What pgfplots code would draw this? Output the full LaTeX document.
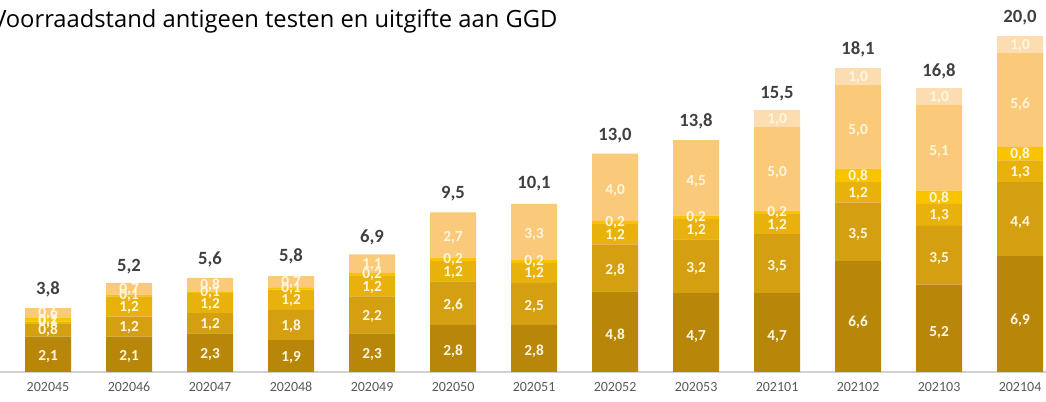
\documentclass[border=0pt]{standalone}
\usepackage{pgfplots}
\pgfplotsset{compat=1.18}
\usepackage{pgfplotstable}
\usepackage{fontspec}
\setmainfont{Carlito}
\newfontfamily\titlefont{Open Sans}

\definecolor{c1}{HTML}{B8870A}
\definecolor{c2}{HTML}{D4A012}
\definecolor{c3}{HTML}{E9B10C}
\definecolor{c4}{HTML}{F9C300}
\definecolor{c5}{HTML}{FBC97A}
\definecolor{c6}{HTML}{FCDDB2}
\definecolor{lbl}{HTML}{FFF6DE}
\definecolor{tot}{HTML}{404040}
\definecolor{tick}{HTML}{595959}

\pgfplotstableread{
x s1 s2 s3 s4 s5 s6 tot
0 2.1 0.8 0.1 0.2 0.6 0 3.8
1 2.1 1.2 1.2 0.1 0.7 0 5.2
2 2.3 1.2 1.2 0.1 0.8 0 5.6
3 1.9 1.8 1.2 0.1 0.7 0 5.8
4 2.3 2.2 1.2 0.2 1.1 0 6.9
5 2.8 2.6 1.2 0.2 2.7 0 9.5
6 2.8 2.5 1.2 0.2 3.3 0 10.1
7 4.8 2.8 1.2 0.2 4.0 0 13.0
8 4.7 3.2 1.2 0.2 4.5 0 13.8
9 4.7 3.5 1.2 0.2 5.0 1.0 15.5
10 6.6 3.5 1.2 0.8 5.0 1.0 18.1
11 5.2 3.5 1.3 0.8 5.1 1.0 16.8
12 6.9 4.4 1.3 0.8 5.6 1.0 20.0
}\voorraad

% labels in the middle of each segment
\makeatletter
\pgfplotsset{
  half offset/.code={%
    \pgfkeys{/pgf/fpu=true,/pgf/fpu/output format=fixed}%
    \pgfmathsetmacro\halfseg{\pgfplotspointmeta*\pgfplots@y@veclength/2}%
    \pgfkeys{/pgf/fpu=false}%
  },
  mid labels/.style={
    nodes near coords={\pgfmathfloatifflags{\pgfplotspointmeta}{0}{}{\pgfmathprintnumber{\pgfplotspointmeta}}},
    every node near coord/.append style={
      anchor=center, inner sep=0pt, font=\bfseries\fontsize{11.5}{13}\selectfont, text=lbl,
      /pgfplots/half offset, yshift=-\halfseg
    }
  },
  base/.style={
    scale only axis, width=784.5pt, height=279pt,
    xmin=-0.593, xmax=12.32, ymin=0, ymax=22.14,
    bar width=0.568,
    axis y line=none,
    axis x line*=bottom,
    x axis line style={draw=black!18, line width=0.8pt, -},
    major tick length=0pt,
    xtick={0,...,12},
    xticklabels={202045,202046,202047,202048,202049,202050,202051,202052,202053,202101,202102,202103,202104},
    xticklabel style={font=\fontsize{10.5}{12}\selectfont, text=tick, yshift=-4pt},
    point meta=explicit,
  }
}
\makeatother

\begin{document}
\begin{tikzpicture}[/pgf/number format/.cd, use comma, fixed, fixed zerofill, precision=1, assume math mode=true]
\begin{axis}[base, ybar stacked, mid labels]
\addplot[fill=c1, draw=none] table[x=x, y=s1, meta=s1] {\voorraad};
\addplot[fill=c2, draw=none] table[x=x, y=s2, meta=s2] {\voorraad};
\addplot[fill=c3, draw=none] table[x=x, y=s3, meta=s3] {\voorraad};
\addplot[fill=c4, draw=none] table[x=x, y=s4, meta=s4] {\voorraad};
\addplot[fill=c5, draw=none] table[x=x, y=s5, meta=s5] {\voorraad};
\addplot[fill=c6, draw=none] table[x=x, y=s6, meta=s6] {\voorraad};
\end{axis}
\begin{axis}[base, axis x line=none, xticklabels={},
  nodes near coords,
  every node near coord/.append style={anchor=south, inner sep=0pt, yshift=8pt,
    font=\bfseries\fontsize{14}{16}\selectfont, text=tot}]
\addplot[draw=none, mark=none] table[x=x, y=tot, meta=tot] {\voorraad};
\end{axis}
\node[anchor=base west, inner sep=0pt, font=\titlefont\fontsize{17.8}{20}\selectfont, text=black]
  at (-6pt,258pt) {Voorraadstand antigeen testen en uitgifte aan GGD};
\pgfresetboundingbox
\useasboundingbox (0,-22.5pt) rectangle (784.5pt,279pt);
\end{tikzpicture}
\end{document}
